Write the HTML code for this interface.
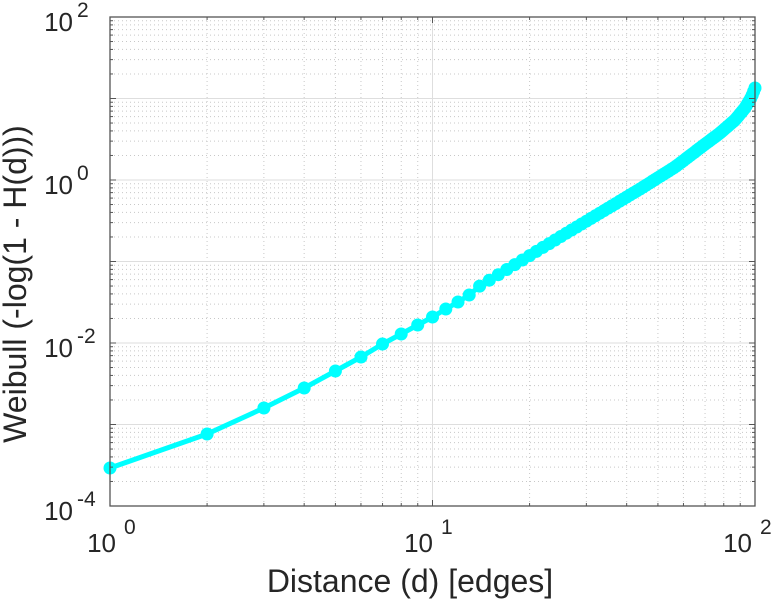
<!DOCTYPE html>
<html><head><meta charset="utf-8"><style>
html,body{margin:0;padding:0;background:#fff;}
svg{display:block;font-family:"Liberation Sans",Arial,sans-serif;}
</style></head><body>
<svg id="s" width="773" height="600" xmlns="http://www.w3.org/2000/svg"></svg>
<script>
const L=110,R=755,T=17,B=506;
const xp=d=>L+(R-L)*Math.log10(d)/2;
const yp=v=>B-(B-T)*(Math.log10(v)+4)/6;
let h='';
for(let e=0;e<2;e++)for(let k=2;k<10;k++){const x=xp(k*Math.pow(10,e));h+=`<line x1="${x}" y1="${T}" x2="${x}" y2="${B}" stroke="#c8c8c8" stroke-width="1" stroke-dasharray="1,3"/>`;}
for(let e=-4;e<2;e++)for(let k=2;k<10;k++){const y=yp(k*Math.pow(10,e));h+=`<line x1="${L}" y1="${y}" x2="${R}" y2="${y}" stroke="#c8c8c8" stroke-width="1" stroke-dasharray="1,3"/>`;}
for(let e=1;e<2;e++){const x=xp(Math.pow(10,e));h+=`<line x1="${x}" y1="${T}" x2="${x}" y2="${B}" stroke="#dedede" stroke-width="1"/>`;}
for(let e=-3;e<2;e++){const y=yp(Math.pow(10,e));h+=`<line x1="${L}" y1="${y}" x2="${R}" y2="${y}" stroke="#dedede" stroke-width="1"/>`;}
const ay={1:468,2:434,3:408,4:388,5:371,6:357,7:344,8:334,9:325,10:317,11:309,12:302,13:295};
const anc=[[465,295],[560,237],[640,189],[675,167],[700,148],[720,133],[735,120],[745,108],[751,98],[755,88]];
function yOf(d){if(ay[d])return ay[d];const x=xp(d);for(let i=0;i<anc.length-1;i++){const[a,b]=anc[i],[c,e]=anc[i+1];if(x>=a&&x<=c)return b+(e-b)*(x-a)/(c-a);}return 88;}
let pts=[];for(let d=1;d<=100;d++)pts.push([xp(d),yOf(d)]);
h+=`<polyline points="${pts.map(p=>p[0].toFixed(1)+','+p[1].toFixed(1)).join(' ')}" fill="none" stroke="#00ffff" stroke-width="5" stroke-linejoin="round"/>`;
for(const p of pts)h+=`<circle cx="${p[0].toFixed(1)}" cy="${p[1].toFixed(1)}" r="6.5" fill="#00ffff"/>`;
h+=`<rect x="${L}" y="${T}" width="${R-L}" height="${B-T}" fill="none" stroke="#555" stroke-width="1.3"/>`;
for(let e=0;e<3;e++)for(let k=1;k<10;k++){if(e==2&&k>1)break;const x=xp(k*Math.pow(10,e));const len=k==1?6:3;h+=`<line x1="${x}" y1="${B}" x2="${x}" y2="${B-len}" stroke="#555"/><line x1="${x}" y1="${T}" x2="${x}" y2="${T+len}" stroke="#555"/>`;}
for(let e=-4;e<3;e++)for(let k=1;k<10;k++){if(e==2&&k>1)break;const y=yp(k*Math.pow(10,e));const len=k==1?6:3;h+=`<line x1="${L}" y1="${y}" x2="${L+len}" y2="${y}" stroke="#555"/><line x1="${R}" y1="${y}" x2="${R-len}" y2="${y}" stroke="#555"/>`;}
const yl=[[-4,506],[-2,343],[0,180],[2,17]];
for(const[e,y]of yl){h+=`<text x="73" y="${y+14}" font-size="26" fill="#262626" text-anchor="end">10</text><text x="77" y="${y}" font-size="21" fill="#262626">${e}</text>`;}
const xl=[[0,116],[1,433],[2,752]];
for(const[e,x]of xl){h+=`<text x="${x}" y="552" font-size="26" fill="#262626" text-anchor="end">10</text><text x="${x+8}" y="534" font-size="21" fill="#262626">${e}</text>`;}
h+=`<text x="410" y="592" font-size="32" fill="#262626" text-anchor="middle">Distance (d) [edges]</text>`;
h+=`<text transform="translate(26,284) rotate(-90)" font-size="32" fill="#262626" text-anchor="middle">Weibull (-log(1 - H(d)))</text>`;
document.getElementById('s').innerHTML=h;
</script>
</body></html>
